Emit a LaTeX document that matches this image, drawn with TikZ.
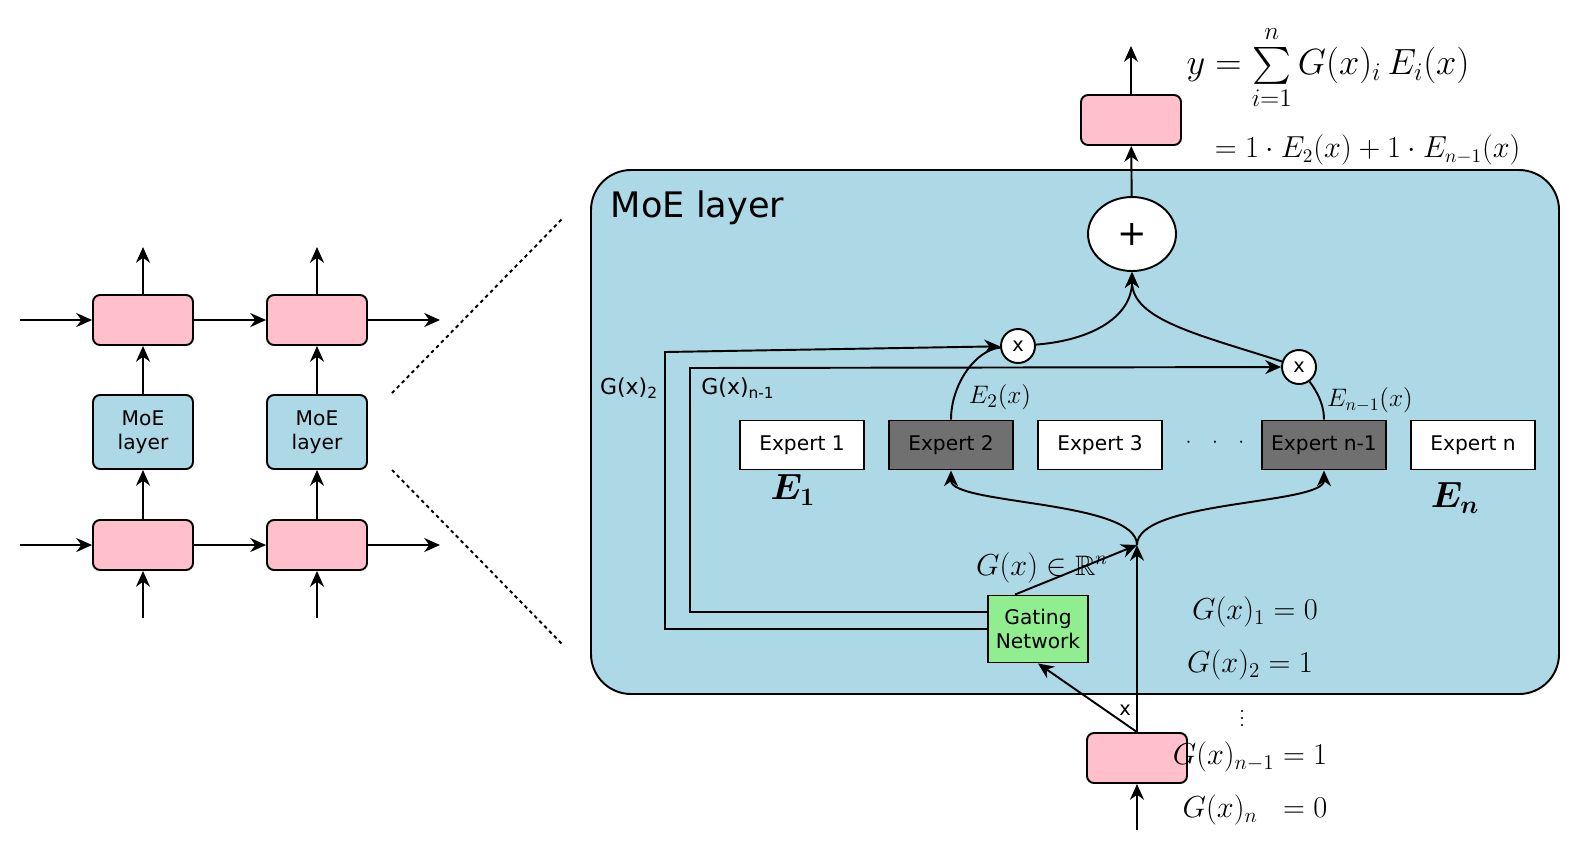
\documentclass[tikz,border=0pt]{standalone}
\usepackage{amsmath,amssymb,bm}
\usepackage{fontspec}
\setmainfont{DejaVu Sans}
\definecolor{cellpink}{RGB}{255,192,203}
\definecolor{moeblue}{RGB}{173,216,230}
\definecolor{gategreen}{RGB}{144,238,144}
\definecolor{expgray}{RGB}{112,112,112}
\usetikzlibrary{arrows.meta,shapes.geometric}

\begin{document}
\begin{tikzpicture}[x=0.02cm,y=-0.02cm,line width=1.1pt,
        >={Stealth[length=9pt,width=8pt]},
        txt/.style={font=\fontsize{11.5}{13.5}\selectfont},
        cell/.style={draw,rounded corners=4pt,fill=cellpink,minimum width=2cm,minimum height=1cm},
        moebox/.style={txt,draw,rounded corners=4pt,fill=moeblue,minimum width=2cm,minimum height=1.48cm,align=center},
        expert/.style={txt,draw,fill=white,minimum width=2.48cm,minimum height=0.98cm},
        chosen/.style={expert,fill=expgray},
        mult/.style={draw,circle,fill=white,minimum size=0.68cm,inner sep=0pt,font=\fontsize{11}{12}\selectfont},
        hand/.style={font=\fontsize{17}{20}\selectfont,inner sep=1pt}]
    \useasboundingbox (0,0) rectangle (1589,867);
    \foreach \c/\x in {a/143,b/317}{
        \node[cell] (top-\c) at (\x,320) {};
        \node[moebox] (moe-\c) at (\x,432) {MoE\\layer};
        \node[cell] (bot-\c) at (\x,545) {};
        \coordinate (in-\c) at (\x,618);
        \coordinate (out-\c) at (\x,247);
        \draw[->] (in-\c) -- (bot-\c);
        \draw[->] (bot-\c) -- (moe-\c);
        \draw[->] (moe-\c) -- (top-\c);
        \draw[->] (top-\c) -- (out-\c);
    }
    \foreach \r/\y in {top/320,bot/545}{
        \coordinate (\r-l) at (20,\y);
        \coordinate (\r-r) at (440,\y);
        \draw[->] (\r-l) -- (\r-a);
        \draw[->] (\r-a) -- (\r-b);
        \draw[->] (\r-b) -- (\r-r);
    }
    \draw[dash pattern=on 2pt off 2pt] (392,393) -- (563,218);
    \draw[dash pattern=on 2pt off 2pt] (392,470) -- (563,645);

    \draw[fill=moeblue,rounded corners=0.8cm] (591,170) rectangle (1559,694);
    \node[anchor=west,font=\fontsize{20}{24}\selectfont] (moetitle) at (604,208) {MoE layer};

    \node[cell] (yout) at (1131,120) {};
    \node[draw,ellipse,fill=white,minimum width=1.76cm,minimum height=1.48cm,font=\fontsize{20}{22}\selectfont] (plus) at (1132,234) {+};
    \node[mult] (m1) at (1018,346) {x};
    \node[mult] (m2) at (1299,367) {x};
    \foreach \n/\x/\t/\s in {e1/802/Expert 1/expert,e2/951/Expert 2/chosen,e3/1100/Expert 3/expert,en1/1324/Expert n-1/chosen,en/1473/Expert n/expert}
        \node[\s] (\n) at (\x,445) {\t};
    \node[txt] (dots) at (1215,443) {$\cdot\hspace{9pt}\cdot\hspace{9pt}\cdot$};
    \node[txt,draw,fill=gategreen,align=center,minimum width=2cm,minimum height=1.34cm] (gate) at (1038,629) {Gating\\Network};
    \node[cell] (xin) at (1137,758) {};
    \coordinate (src) at (1137,830);
    \coordinate (split) at (1137,545);
    \coordinate (ytop) at (1131,46);

    \draw[->] (src) -- (xin);
    \draw[->] (xin.north) -- (split);
    \draw[->] (xin.north) -- (gate.south);
    \node[font=\fontsize{11}{12}\selectfont] (xlab) at (1125,710) {x};
    \draw[->] ([xshift=-0.46cm]gate.north) -- (split);
    \draw[->] (split) .. controls (1137,500) and (951,505) .. (e2.south);
    \draw[->] (split) .. controls (1137,500) and (1324,505) .. (en1.south);
    \draw (e2.north) .. controls (951,385) and (975,350) .. (m1);
    \draw (en1.north) .. controls (1324,400) and (1312,385) .. (m2);
    \draw[->] (m1) .. controls (1095,340) and (1132,315) .. (plus.south);
    \draw[->] (m2) .. controls (1200,335) and (1132,320) .. (plus.south);
    \draw[->] (plus) -- (yout);
    \draw[->] (yout) -- (ytop);
    \draw[->] (gate.west) -| (665,352) -- (m1);
    \draw[->] ([yshift=0.34cm]gate.west) -| (690,368) -- (m2);
    \node[font=\fontsize{12.5}{14}\selectfont] (g2lab) at (629,388) {G(x)\textsubscript{2}};
    \node[font=\fontsize{12.5}{14}\selectfont] (gn1lab) at (738,388) {G(x)\textsubscript{n-1}};

    \node[font=\fontsize{21}{24}\selectfont] (ysum) at (1328,68) {$y=\sum\limits_{i=1}^{n} G(x)_i\,E_i(x)$};
    \node[font=\fontsize{16}{18}\selectfont,anchor=west] (yexp) at (1208,150) {$=1\cdot E_2(x)+1\cdot E_{n-1}(x)$};
    \node[font=\fontsize{15}{18}\selectfont] (e2lab) at (1000,397) {$E_2(x)$};
    \node[font=\fontsize{14}{16}\selectfont] (en1lab) at (1370,400) {$E_{n-1}(x)$};
    \node[font=\fontsize{22}{24}\selectfont] (e1lab) at (793,490) {$\bm{E_1}$};
    \node[font=\fontsize{22}{24}\selectfont] (enlab) at (1455,498) {$\bm{E_n}$};
    \node[font=\fontsize{16}{18}\selectfont] (grn) at (1042,568) {$G(x)\in\mathbb{R}^n$};
    \node[hand] (g1) at (1255,612) {$G(x)_1=0$};
    \node[hand] (g2) at (1250,665) {$G(x)_2=1$};
    \node[font=\fontsize{9}{11}\selectfont,inner sep=0pt] (vd) at (1242,713) {$\vdots$};
    \node[hand] (gn1) at (1250,757) {$G(x)_{n-1}=1$};
    \node[hand] (gn) at (1255,810) {$G(x)_n\;\;=0$};
\end{tikzpicture}
\end{document}
